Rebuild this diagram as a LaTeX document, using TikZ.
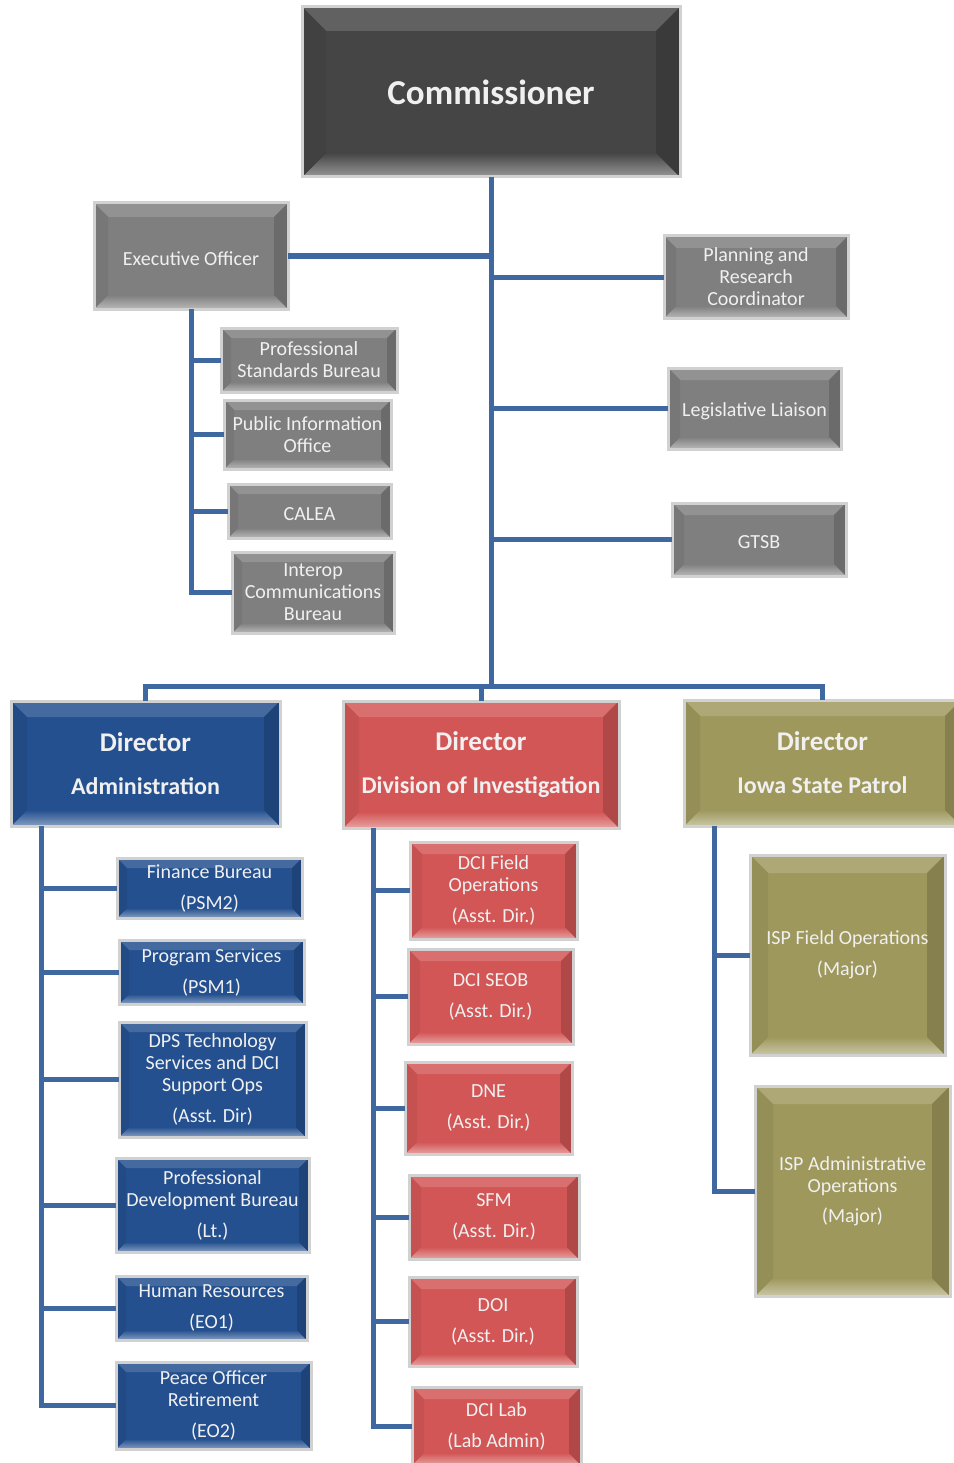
\documentclass[tikz,border=0pt]{standalone}
\usepackage{fontspec}
\setmainfont{Carlito}
\definecolor{cdark}{HTML}{454545}
\definecolor{cgray}{HTML}{7F7F7F}
\definecolor{cblue}{HTML}{24508F}
\definecolor{cred}{HTML}{D35656}
\definecolor{colive}{HTML}{9E985D}
\definecolor{lineblue}{HTML}{3F67A0}
\newcommand\smtxt{\fontsize{20}{22}\selectfont}
\tikzset{
  bev/.style 2 args={rectangle, inner sep=0pt, outer sep=0pt, align=center,
    text=white!94!black, font=\smtxt, draw=black!18, line width=3pt, fill=#1,
    execute at begin node={\rule{0pt}{19pt}},
    path picture={
      \fill[#1!85!white] (path picture bounding box.north west) -- (path picture bounding box.north east)
        -- ([xshift=-#2pt,yshift=-#2pt]path picture bounding box.north east)
        -- ([xshift=#2pt,yshift=-#2pt]path picture bounding box.north west) -- cycle;
      \shade[top color=#1, bottom color=#1!55!white] (path picture bounding box.south west) -- (path picture bounding box.south east)
        -- ([xshift=-#2pt,yshift=#2pt]path picture bounding box.south east)
        -- ([xshift=#2pt,yshift=#2pt]path picture bounding box.south west) -- cycle;
      \fill[#1!94!black] (path picture bounding box.north west)
        -- ([xshift=#2pt,yshift=-#2pt]path picture bounding box.north west)
        -- ([xshift=#2pt,yshift=#2pt]path picture bounding box.south west)
        -- (path picture bounding box.south west) -- cycle;
      \fill[#1!84!black] (path picture bounding box.north east)
        -- ([xshift=-#2pt,yshift=-#2pt]path picture bounding box.north east)
        -- ([xshift=-#2pt,yshift=#2pt]path picture bounding box.south east)
        -- (path picture bounding box.south east) -- cycle;
    }},
  dirfont/.style={font=\bfseries\fontsize{24}{30}\selectfont},
  conn/.style={draw=lineblue, line width=5pt, line join=miter},
}
\begin{document}
\begin{tikzpicture}[x=1pt,y=1pt]
\useasboundingbox (0,0) rectangle (953,-1463);
\fill[white] (0,0) rectangle (953,-1463);

% top level
\node[bev={cdark}{24}, minimum width=378pt, minimum height=170pt, font=\bfseries\fontsize{35}{40}\selectfont] (comm) at (491,-92) {Commissioner};

\node[bev={cgray}{14}, minimum width=194pt, minimum height=106pt] (exec) at (191,-256) {Executive Officer};
\node[bev={cgray}{10}, minimum width=176pt, minimum height=64pt] (psb) at (309,-360) {Professional\\Standards Bureau};
\node[bev={cgray}{10}, minimum width=167pt, minimum height=69pt] (pio) at (307.5,-434.5) {Public Information\\Office};
\node[bev={cgray}{10}, minimum width=163pt, minimum height=54pt] (calea) at (309.5,-511) {CALEA};
\node[bev={cgray}{10}, minimum width=162pt, minimum height=81pt] (interop) at (313,-592.5) {Interop\\Communications\\Bureau};

\node[bev={cgray}{12}, minimum width=184pt, minimum height=82pt] (plan) at (756,-277) {Planning and\\Research\\Coordinator};
\node[bev={cgray}{12}, minimum width=173pt, minimum height=81pt] (leg) at (754.5,-408.5) {Legislative Liaison};
\node[bev={cgray}{12}, minimum width=174pt, minimum height=73pt] (gtsb) at (759,-539.5) {GTSB};

% directors
\node[bev={cblue}{16}, dirfont, minimum width=269pt, minimum height=125pt] (dadmin) at (145.5,-763.5) {{\fontsize{27}{30}\selectfont Director}\\[13pt]Administration};
\node[bev={cred}{16}, dirfont, minimum width=276pt, minimum height=127pt] (dinv) at (481,-764.5) {{\fontsize{27}{30}\selectfont Director}\\[13pt]Division of Investigation};
\node[bev={colive}{16}, dirfont, minimum width=277pt, minimum height=126pt] (disp) at (822.5,-763) {{\fontsize{27}{30}\selectfont Director}\\[13pt]Iowa State Patrol};

% administration
\node[bev={cblue}{10}, minimum width=185pt, minimum height=60pt] (fin) at (209.5,-888) {Finance Bureau\\[9pt](PSM2)};
\node[bev={cblue}{10}, minimum width=185pt, minimum height=64pt] (prog) at (211.5,-972) {Program Services\\[9pt](PSM1)};
\node[bev={cblue}{10}, minimum width=187pt, minimum height=115pt] (dps) at (212.5,-1079.5) {DPS Technology\\Services and DCI\\Support Ops\\[9pt](Asst. Dir)};
\node[bev={cblue}{10}, minimum width=193pt, minimum height=94pt] (pdb) at (212.5,-1205) {Professional\\Development Bureau\\[9pt](Lt.)};
\node[bev={cblue}{10}, minimum width=191pt, minimum height=64pt] (hr) at (211.5,-1308) {Human Resources\\[9pt](EO1)};
\node[bev={cblue}{10}, minimum width=195pt, minimum height=87pt] (por) at (213.5,-1405.5) {Peace Officer\\Retirement\\[9pt](EO2)};

% investigation
\node[bev={cred}{12}, minimum width=167pt, minimum height=97pt] (dcifo) at (493.5,-890.5) {DCI Field\\Operations\\[9pt](Asst. Dir.)};
\node[bev={cred}{12}, minimum width=165pt, minimum height=95pt] (seob) at (490.5,-996.5) {DCI SEOB\\[9pt](Asst. Dir.)};
\node[bev={cred}{12}, minimum width=167pt, minimum height=92pt] (dne) at (488.5,-1108) {DNE\\[9pt](Asst. Dir.)};
\node[bev={cred}{12}, minimum width=170pt, minimum height=84pt] (sfm) at (494,-1217) {SFM\\[9pt](Asst. Dir.)};
\node[bev={cred}{12}, minimum width=168pt, minimum height=89pt] (doi) at (493,-1321.5) {DOI\\[9pt](Asst. Dir.)};
\node[bev={cred}{12}, minimum width=169pt, minimum height=78pt] (lab) at (496.5,-1426) {DCI Lab\\[9pt](Lab Admin)};

% state patrol
\node[bev={colive}{18}, minimum width=195pt, minimum height=200pt] (ispfo) at (847.5,-955) {ISP Field Operations\\[9pt](Major)};
\node[bev={colive}{18}, minimum width=195pt, minimum height=210pt] (ispao) at (852.5,-1191) {ISP Administrative\\Operations\\[8pt](Major)};

% connectors
\coordinate (bus) at (491,-686);
\draw[conn] (comm.south) -- (bus);
\draw[conn] (exec.east) -- (exec.east -| comm.south);
\draw[conn] (plan.west) -- (plan.west -| comm.south);
\draw[conn] (leg.west) -- (leg.west -| comm.south);
\draw[conn] (gtsb.west) -- (gtsb.west -| comm.south);

\draw[conn] (exec.south) |- (psb.west);
\draw[conn] (exec.south) |- (pio.west);
\draw[conn] (exec.south) |- (calea.west);
\draw[conn] (exec.south) |- (interop.west);

\draw[conn] (bus) -| (dadmin.north);
\draw[conn] (bus) -| (dinv.north);
\draw[conn] (bus) -| (disp.north);

\coordinate (aspine) at (41,-826);
\draw[conn] (aspine) |- (fin.west);
\draw[conn] (aspine) |- (prog.west);
\draw[conn] (aspine) |- (dps.west);
\draw[conn] (aspine) |- (pdb.west);
\draw[conn] (aspine) |- (hr.west);
\draw[conn] (aspine) |- (por.west);

\coordinate (ispine) at (373,-828);
\draw[conn] (ispine) |- (dcifo.west);
\draw[conn] (ispine) |- (seob.west);
\draw[conn] (ispine) |- (dne.west);
\draw[conn] (ispine) |- (sfm.west);
\draw[conn] (ispine) |- (doi.west);
\draw[conn] (ispine) |- (lab.west);

\coordinate (pspine) at (714,-826);
\draw[conn] (pspine) |- (ispfo.west);
\draw[conn] (pspine) |- (ispao.west);
\end{tikzpicture}
\end{document}
